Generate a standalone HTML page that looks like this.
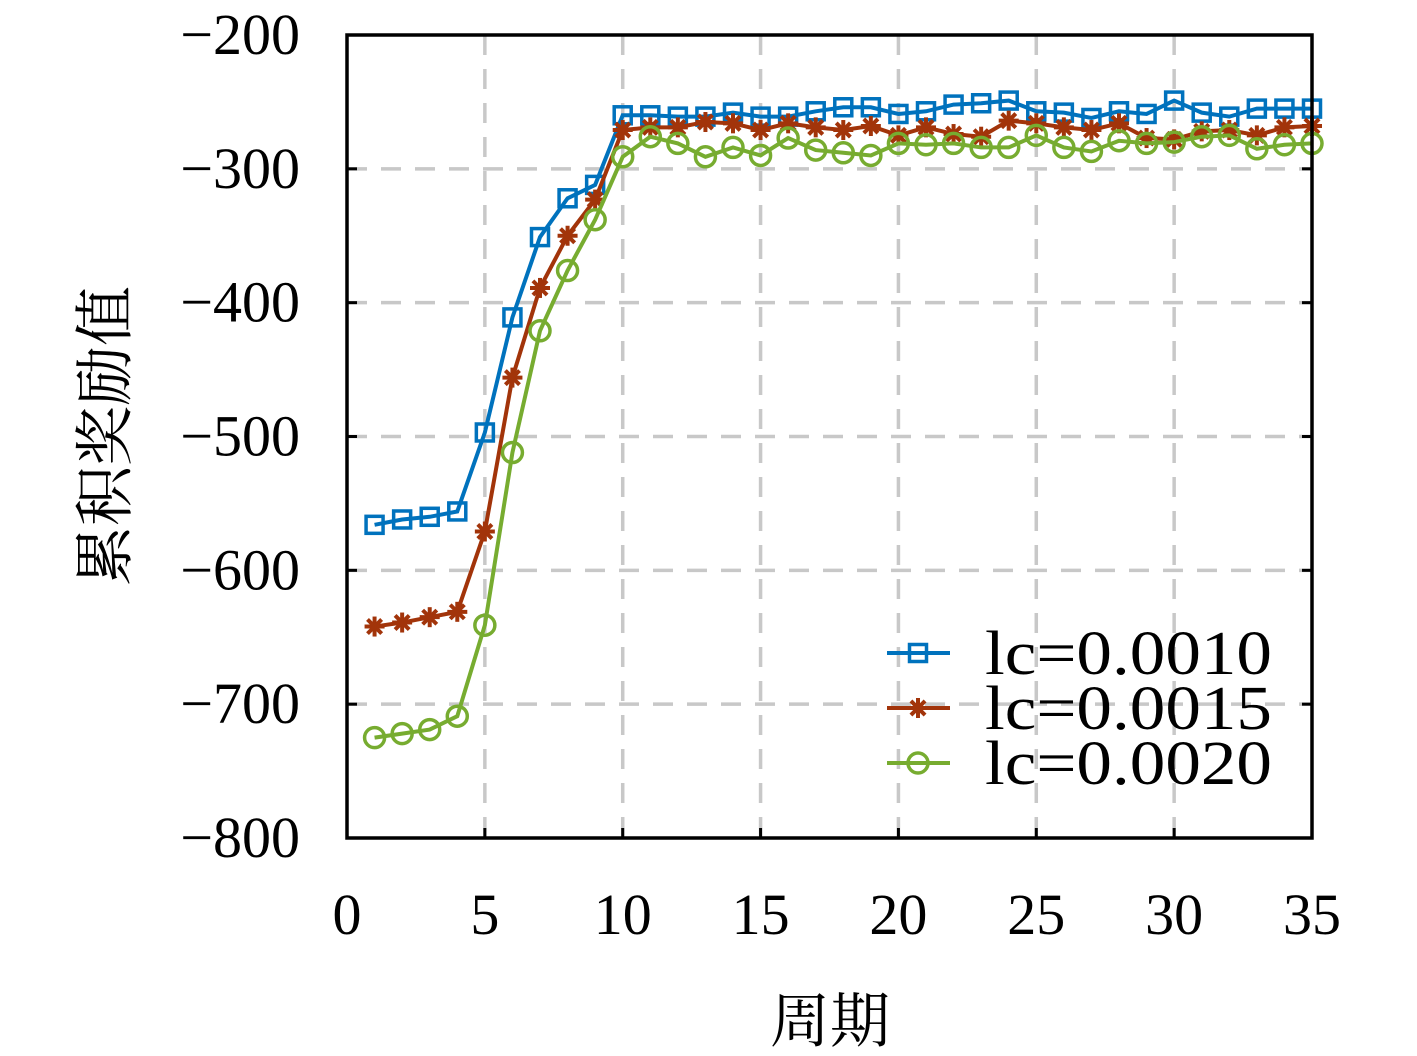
<!DOCTYPE html>
<html><head><meta charset="utf-8"><style>
html,body{margin:0;padding:0;background:#fff;}
svg{display:block;}
</style></head><body>
<svg id="chart" width="1417" height="1056" viewBox="0 0 1417 1056" xmlns="http://www.w3.org/2000/svg">
<g id="grid"></g>
<g id="series"></g>
<rect x="347" y="35" width="965" height="803" fill="none" stroke="#000" stroke-width="3.5"/>
<g id="ticks"></g>
<text x="830" y="1042" font-family="'Liberation Serif','Noto Serif CJK SC',serif" font-size="60" text-anchor="middle">周期</text>
<text transform="translate(126,436) rotate(-90)" font-family="'Liberation Serif','Noto Serif CJK SC',serif" font-size="60" text-anchor="middle">累积奖励值</text>
<g id="legend"></g>
</svg>
<script>
const xs = [1,2,3,4,5,6,7,8,9,10,11,12,13,14,15,16,17,18,19,20,21,22,23,24,25,26,27,28,29,30,31,32,33,34,35];
const s1 = [-566,-562,-560,-556,-497,-411,-351,-322,-312,-260,-260,-261,-261,-258,-261,-261,-257,-254,-254,-259,-257,-252,-251,-249,-257,-258,-262,-257,-259,-249,-258,-261,-255,-255,-255];
const s2 = [-642,-639,-635,-631,-571,-456,-389,-350,-323,-271,-269,-269,-265,-266,-271,-266,-269,-271,-268,-275,-269,-274,-276,-264,-266,-269,-271,-266,-277,-278,-272,-271,-275,-269,-268];
const s3 = [-725,-722,-719,-709,-641,-512,-421,-376,-338,-291,-276,-281,-291,-284,-290,-277,-286,-288,-290,-281,-282,-281,-284,-284,-275,-284,-287,-279,-281,-280,-276,-275,-285,-282,-281];
const xTicks = [0,5,10,15,20,25,30,35];
const yTicks = [-200,-300,-400,-500,-600,-700,-800];
const labels = ['lc=0.0010','lc=0.0015','lc=0.0020'];

const NS='http://www.w3.org/2000/svg';
const X0=347,X1=1312,Y0=35,Y1=838;
const xScale=v=>X0+(v-0)/(35-0)*(X1-X0);
const yScale=v=>Y0+(-200-v)/(600)*(Y1-Y0);
function mk(tag,attrs,parent){const e=document.createElementNS(NS,tag);for(const k in attrs)e.setAttribute(k,attrs[k]);parent.appendChild(e);return e;}
const grid=document.getElementById('grid'),ticks=document.getElementById('ticks'),ser=document.getElementById('series'),leg=document.getElementById('legend');
const serif="'Liberation Serif','DejaVu Serif',serif";
xTicks.forEach(t=>{
  const x=xScale(t);
  if(t>0&&t<35){const g=mk('line',{x1:x,x2:x,y1:Y0,y2:Y1,stroke:'#c8c8c8','stroke-width':3.5,'stroke-dasharray':'20,14'},grid);
  
  }
  const tk=mk('line',{x1:x,x2:x,y1:Y1,y2:Y1-10,stroke:'#000','stroke-width':3},ticks);
  
  
  const l=mk('text',{x:x,y:934,'font-family':serif,'font-size':58,'text-anchor':'middle'},ticks);
  l.textContent=t;
  
  
});
yTicks.forEach(t=>{
  const y=yScale(t);
  if(t>-800&&t<-200){const g=mk('line',{x1:X0,x2:X1,y1:y,y2:y,stroke:'#c8c8c8','stroke-width':3.5,'stroke-dasharray':'20,14'},grid);
  
  
  const tk=mk('line',{x1:X0,x2:X0+10,y1:y,y2:y,stroke:'#000','stroke-width':3},ticks);
  
  
  const tk2=mk('line',{x1:X1,x2:X1-10,y1:y,y2:y,stroke:'#000','stroke-width':3},ticks);
  
  }
  const l=mk('text',{x:300,y:y+19,'font-family':serif,'font-size':58,'text-anchor':'end'},ticks);
  l.textContent='\u2212'+Math.abs(t);
  
  
});
function marker(kind,x,y,color,parent){
  let m;
  if(kind==='sq'){m=mk('rect',{x:x-8.5,y:y-8.5,width:17,height:17,fill:'none',stroke:color,'stroke-width':3.5},parent);}
  else if(kind==='star'){m=mk('g',{},parent);
    for(let a=0;a<4;a++){const r=a*Math.PI/4;mk('line',{x1:x-10*Math.cos(r),y1:y-10*Math.sin(r),x2:x+10*Math.cos(r),y2:y+10*Math.sin(r),stroke:color,'stroke-width':4},m);}}
  else {m=mk('circle',{cx:x,cy:y,r:10,fill:'none',stroke:color,'stroke-width':3.5},parent);}
  
  
}
const defs=[[s1,'#0072bd','sq'],[s2,'#a2340a','star'],[s3,'#77ac30','circ']];
defs.forEach(([d,c,k],i)=>{
  const g=mk('g',{},ser);
  
  
  const pts=d.map((v,j)=>xScale(xs[j])+','+yScale(v)).join(' ');
  const pl=mk('polyline',{points:pts,fill:'none',stroke:c,'stroke-width':4},g);
  
  
  d.forEach((v,j)=>marker(k,xScale(xs[j]),yScale(v),c,g));
  const ly=653+i*55;
  const le=mk('g',{},leg);
  
  
  mk('line',{x1:887,x2:950,y1:ly,y2:ly,stroke:c,'stroke-width':4},le);
  marker(k,918,ly,c,le);
  const t=mk('text',{x:985,y:ly+21,'font-family':serif,'font-size':62,'textLength':287,'lengthAdjust':'spacingAndGlyphs'},le);
  t.textContent=labels[i];
  
  
});
</script>
</body></html>
